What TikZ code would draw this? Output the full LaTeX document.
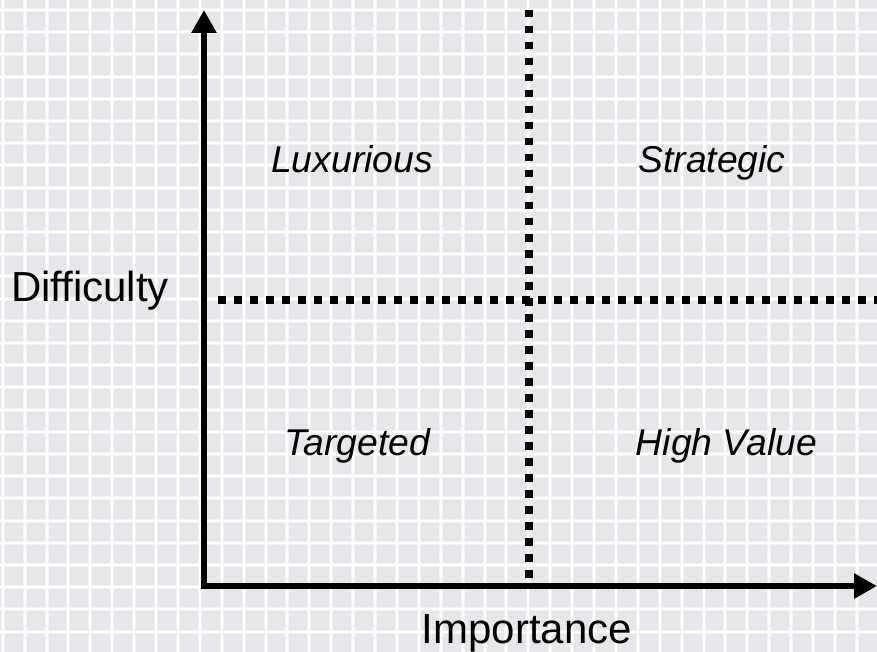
\documentclass[tikz,border=0pt]{standalone}
\usepackage{fontspec}
\setmainfont{Liberation Sans}
\usetikzlibrary{arrows.meta}
\definecolor{bgcol}{RGB}{230,231,235}
\definecolor{halocol}{RGB}{243,243,245}
\tikzset{
  axisline/.style={line width=6pt, line join=miter, {Triangle[width=24pt,length=23pt]}-{Triangle[width=24pt,length=23pt]}},
  dotline/.style={line width=7.6pt, dash pattern=on 7.5pt off 8.5pt},
  quadlabel/.style={anchor=base, font=\fontsize{37.3}{44}\selectfont\itshape, inner sep=0pt},
  axislabel/.style={anchor=base, font=\fontsize{42}{48}\selectfont, inner sep=0pt},
  gridhalo/.style={halocol, line width=4pt},
  gridcore/.style={white, line width=2pt}
}
\begin{document}
\begin{tikzpicture}[x=1pt,y=-1pt]
\useasboundingbox (0,0) rectangle (877,652);
\fill[bgcol] (0,0) rectangle (877,652);
% grid
\foreach \k in {0,...,40} {
  \draw[gridhalo] ({2.7+21.9*\k},0) -- ({2.7+21.9*\k},652);
}
\foreach \k in {0,...,29} {
  \draw[gridhalo] (0,{10+22.2*\k}) -- (877,{10+22.2*\k});
}
\foreach \k in {0,...,40} {
  \draw[gridcore] ({2.7+21.9*\k},0) -- ({2.7+21.9*\k},652);
}
\foreach \k in {0,...,29} {
  \draw[gridcore] (0,{10+22.2*\k}) -- (877,{10+22.2*\k});
}
% coordinates
\coordinate (ytip) at (204,10);
\coordinate (origin) at (204,586);
\coordinate (xtip) at (877,586);
\coordinate (vtop) at (529,10);
\coordinate (vbot) at (529,578);
\coordinate (hleft) at (218.3,300);
\coordinate (hright) at (877,300);
% dotted dividers
\draw[dotline] (vtop) -- (vbot);
\draw[dotline] (hleft) -- (hright);
% axes
\draw[axisline] (ytip) -- (origin) -- (xtip);
% labels
\node[quadlabel] (lux) at (352,173) {Luxurious};
\node[quadlabel] (str) at (712,173) {Strategic};
\node[quadlabel] (tar) at (357,455) {Targeted};
\node[quadlabel] (hv) at (726.5,455) {High Value};
\node[axislabel] (diff) at (90,301) {Difficulty};
\node[axislabel] (imp) at (527,643) {Importance};
\end{tikzpicture}
\end{document}
